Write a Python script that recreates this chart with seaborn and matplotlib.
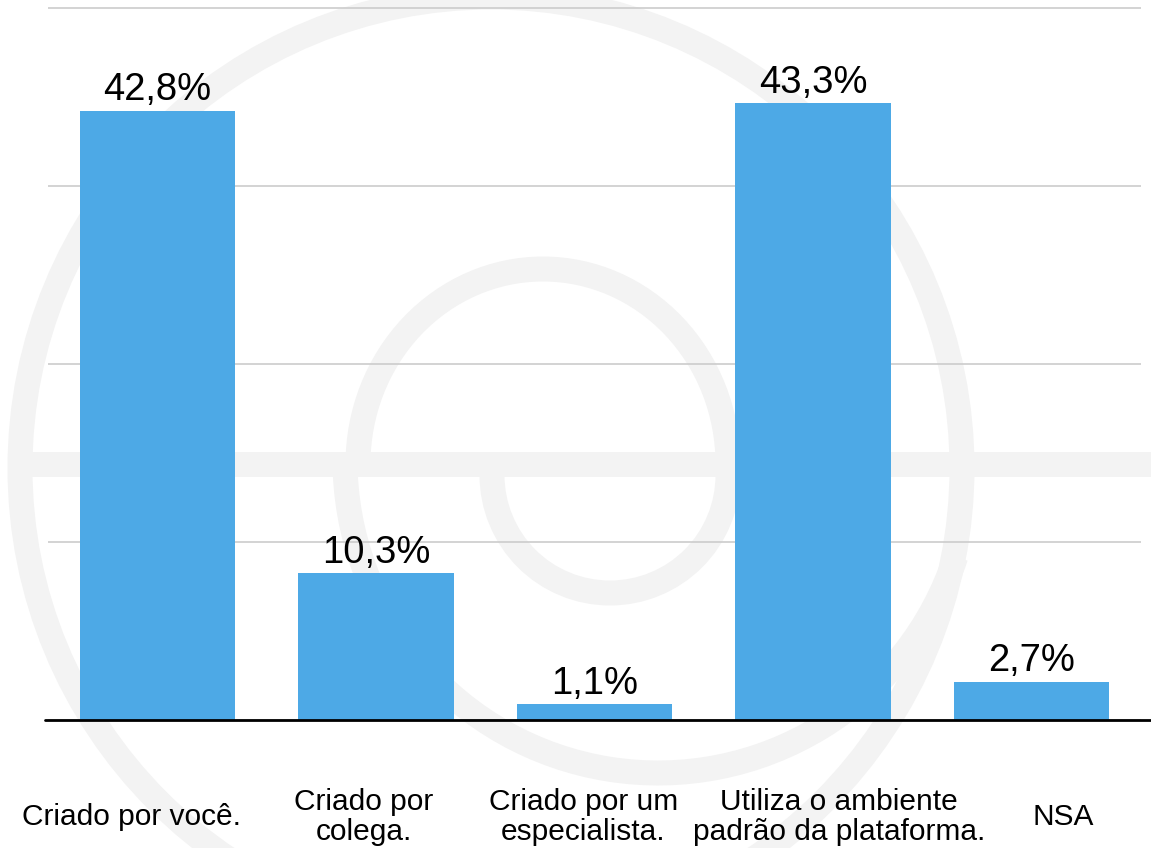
import matplotlib
matplotlib.use("Agg")
import matplotlib.pyplot as plt
from matplotlib.patches import Circle, Arc
from matplotlib.transforms import ScaledTranslation
import seaborn as sns

categorias = [
    "Criado por você.",
    "Criado por\ncolega.",
    "Criado por um\nespecialista.",
    "Utiliza o ambiente\npadrão da plataforma.",
    "NSA",
]
valores = [42.8, 10.3, 1.1, 43.3, 2.7]
grade = [0, 12.5, 25, 37.5, 50]

sns.set_theme(style="white")
plt.rcParams["font.family"] = ["Liberation Sans", "DejaVu Sans"]

azul = "#4DA9E6"
cinza_marca = "#f3f3f3"

fig = plt.figure(figsize=(11.51, 8.48), dpi=100)
fig.patch.set_facecolor("white")

# marca d'agua ao fundo (coordenadas em pixels)
bg = fig.add_axes([0, 0, 1, 1], zorder=0)
bg.set_xlim(0, 1151)
bg.set_ylim(848, 0)
bg.axis("off")
lw_marca = 18
bg.add_patch(Circle((491, 468), 471, fill=False, ec=cinza_marca, lw=lw_marca))
bg.plot([8, 1151], [464, 464], color=cinza_marca, lw=lw_marca, solid_capstyle="butt")
bg.add_patch(Arc((543, 464), 370, 390, theta1=180, theta2=360, ec=cinza_marca, lw=lw_marca))
bg.add_patch(Arc((610, 475), 236, 236, theta1=0, theta2=180, ec=cinza_marca, lw=lw_marca))
bg.add_patch(Arc((658, 460), 626, 626, theta1=18, theta2=180, ec=cinza_marca, lw=lw_marca))

ax = fig.add_axes([48 / 1151, 128 / 848, 1093 / 1151, 720 / 848], zorder=1)
ax.patch.set_alpha(0)

sns.barplot(x=categorias, y=valores, color=azul, saturation=1, width=0.71,
            linewidth=0, ax=ax)

rotulos = [f"{v:.1f}%".replace(".", ",") for v in valores]
ax.bar_label(ax.containers[0], labels=rotulos, padding=2, fontsize=27.5, color="black")

ax.set_ylim(0, 50.56)
ax.set_xlim(-0.5, 4.5)
ax.set_yticks(grade)
ax.set_yticklabels([])
ax.yaxis.grid(True, color="#c8c8c8", lw=1.1)
ax.set_axisbelow(True)
for s in ax.spines.values():
    s.set_visible(False)
ax.axhline(0, xmin=-0.003, xmax=1.01, color="black", lw=2, clip_on=False, zorder=3)

# rotulos das categorias, levemente deslocados como no original
ax.set_xticks(range(len(categorias)))
ax.set_xticklabels([])
ax.tick_params(axis="both", length=0)
desloc = [-26, -12, -11, 26, 31]
for i, (nome, dx) in enumerate(zip(categorias, desloc)):
    tr = ax.get_xaxis_transform() + ScaledTranslation(dx / 100, -97 / 100, fig.dpi_scale_trans)
    ax.text(i, 0, nome, transform=tr, ha="center", va="center", fontsize=21.5,
            linespacing=1.05, multialignment="center", color="black")
ax.set_xlabel("")
ax.set_ylabel("")

fig.savefig("out.png", dpi=100)
